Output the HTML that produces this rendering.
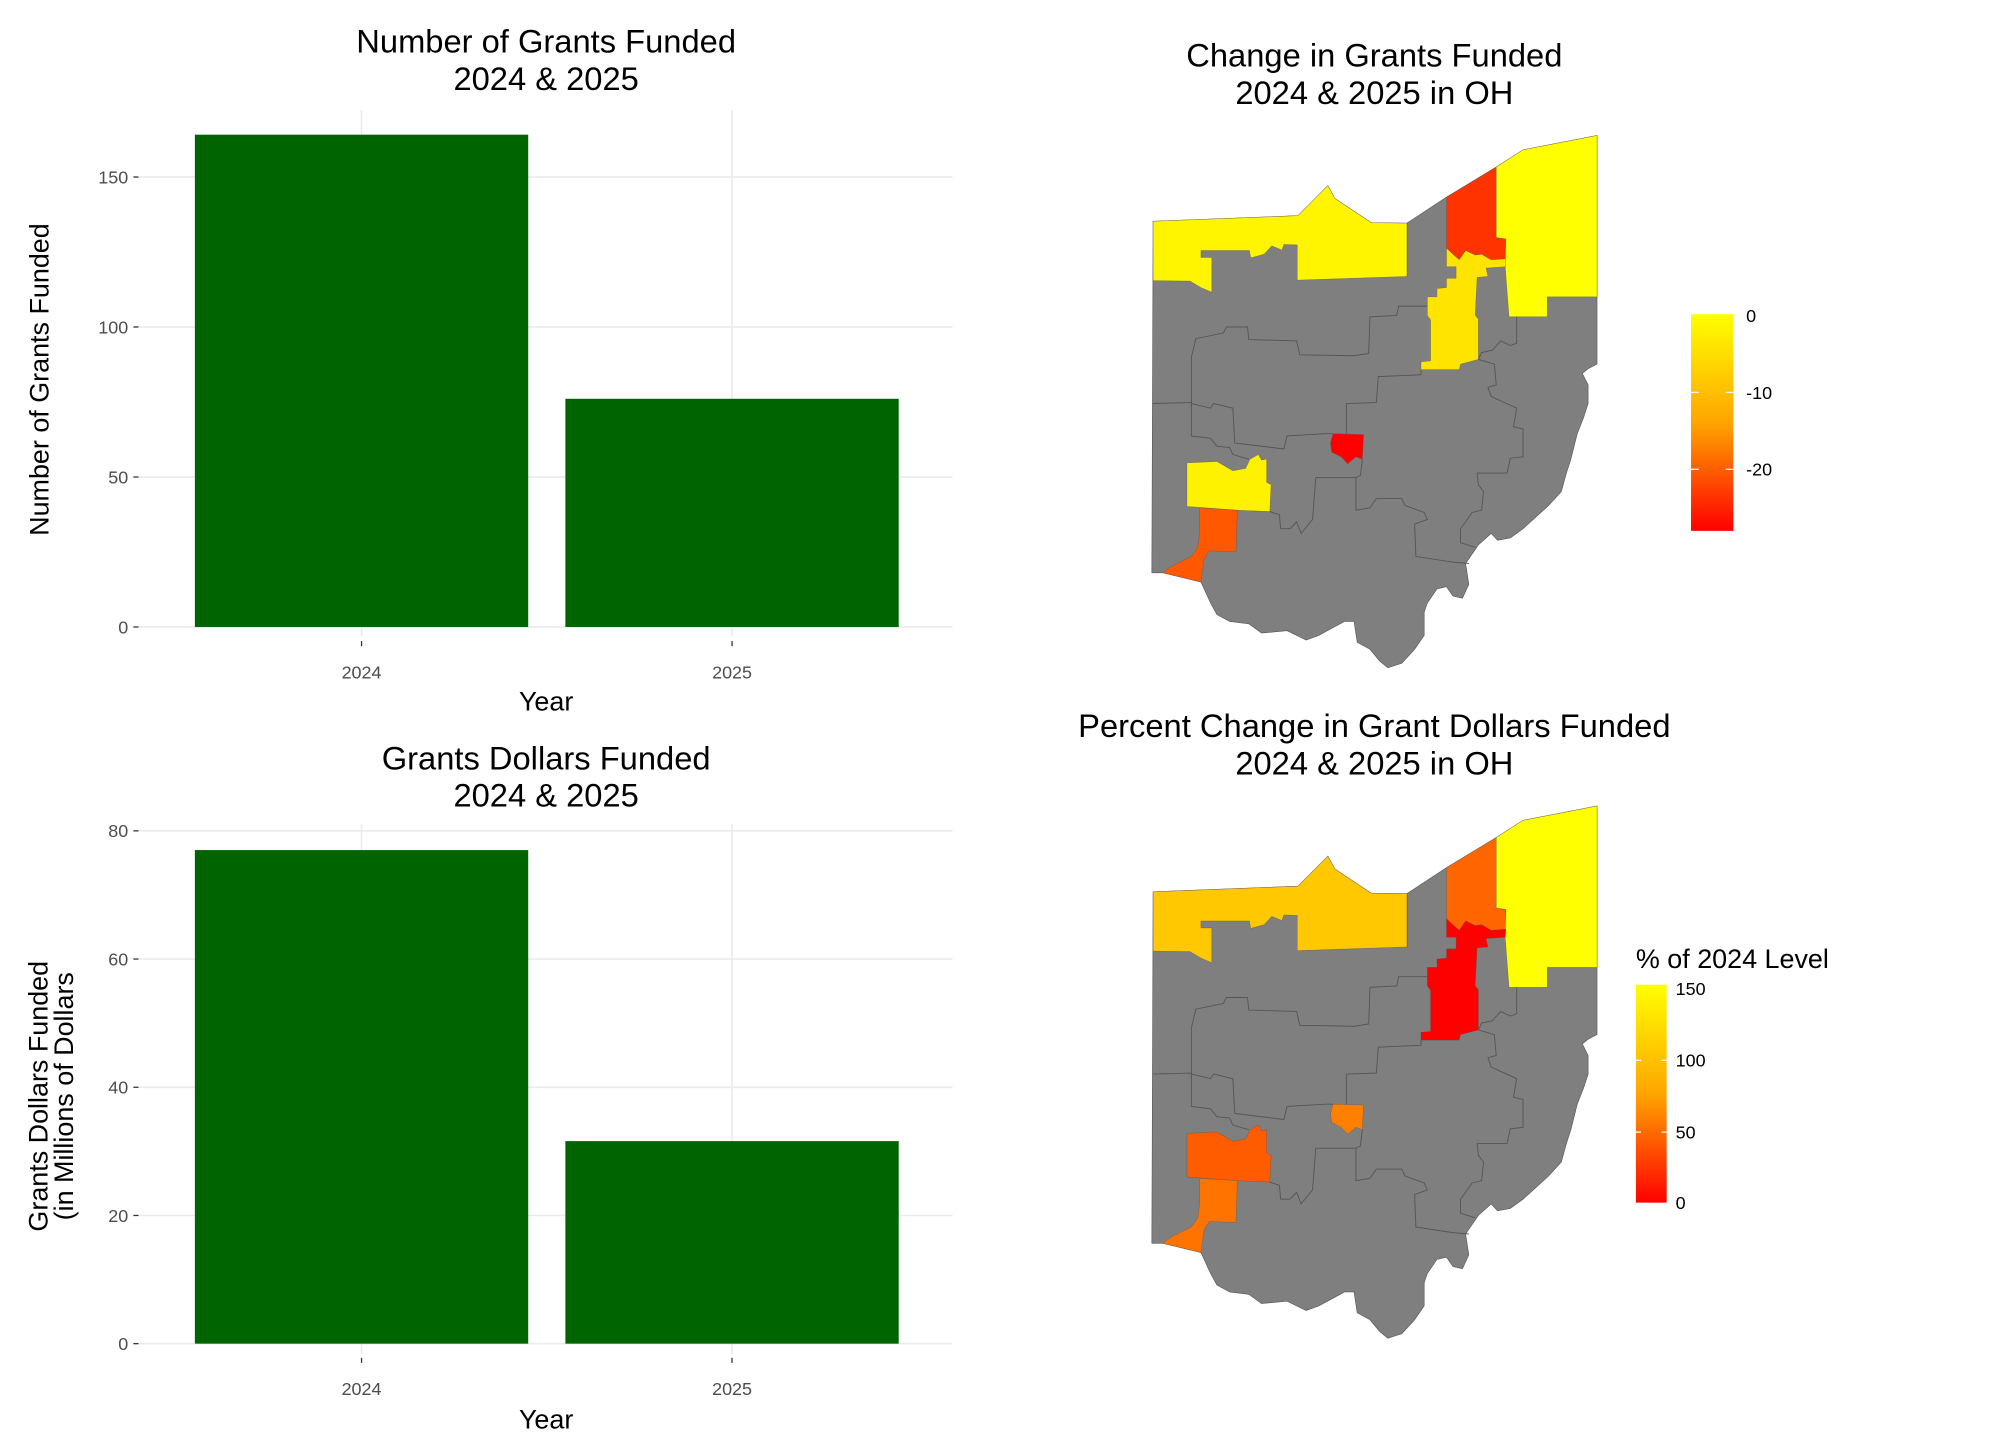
<!DOCTYPE html>
<html><head><meta charset="utf-8"><style>
html,body{margin:0;padding:0;background:#fff;}
svg{display:block;font-family:"Liberation Sans",Arial,sans-serif;}
.g{stroke:#ebebeb;stroke-width:1.3;}
.tk{stroke:#333;stroke-width:1;}
.tl{font-size:14px;fill:#4d4d4d;}
.at{font-size:21px;fill:#000;}
.tt{font-size:25.5px;fill:#000;}
.lt{font-size:14px;fill:#000;}
.b{stroke:#555;stroke-width:0.9;fill:none;vector-effect:non-scaling-stroke;}
.f{stroke:#555;stroke-width:0.6;vector-effect:non-scaling-stroke;}
</style></head><body>
<svg width="2000" height="1454" viewBox="0 0 1560 1134" xmlns="http://www.w3.org/2000/svg">
<defs>
<linearGradient id="lg1" x1="0" y1="0" x2="0" y2="1"><stop offset="0" stop-color="#ffff00"/><stop offset="0.5" stop-color="#ffa500"/><stop offset="1" stop-color="#ff0000"/></linearGradient>
<g id="base">
<path class="f" fill="#7f7f7f" d="M230,477 L457,465 L504,400 L515,428 L572,480 L628,481 L690,425 L768,360 L810,323 L926,292 L926,785 L912,795 L903,805 L912,830 L912,870 L905,900 L895,935 L885,990 L878,1020 L870,1060 L850,1090 L830,1115 L810,1140 L790,1160 L770,1165 L760,1150 L740,1175 L730,1195 L720,1215 L725,1260 L715,1290 L700,1285 L690,1265 L675,1270 L660,1300 L655,1320 L655,1370 L640,1400 L620,1430 L598,1440 L585,1425 L570,1400 L550,1385 L545,1340 L530,1340 L510,1355 L490,1370 L470,1380 L440,1360 L400,1365 L380,1345 L350,1340 L330,1325 L320,1300 L310,1270 L305,1255 L290,1250 L260,1240 L245,1235 L228,1235 Z"/>
<path class="b" d="M230,870 L290,868 L290,940 L320,945 L330,962 L350,965 L355,980 L380,990"/>
<path class="b" d="M290,868 L290,770 L297,730 L340,718 L345,705 L378,705 L380,732 L455,735 L460,765 L545,767 L568,762 L570,683 L612,680 L615,660 L660,660"/>
<path class="b" d="M290,870 L320,880 L325,870 L355,880 L358,955 L435,968 L440,940 L500,935 L512,935"/>
<path class="b" d="M533,935 L533,870 L580,868 L583,812 L650,808 L650,797"/>
<path class="b" d="M558,990 L555,1025 L548,1030 L548,1100 L570,1095 L580,1075 L620,1075 L625,1090 L655,1105 L660,1120 L640,1130 L642,1200 L700,1212 L725,1215"/>
<path class="b" d="M740,775 L765,785 L768,830 L755,835 L760,855 L800,880 L795,920 L810,925 L810,985 L790,988 L785,1020 L738,1020 L740,1045 L748,1060 L745,1100 L730,1105 L720,1125 L712,1140 L712,1170 L735,1180"/>
<path class="b" d="M413,1103 L428,1110 L430,1140 L445,1140 L455,1125 L462,1150 L480,1120 L485,1030 L548,1030"/>
<path class="b" d="M800,683 L800,740 L790,745 L775,735 L762,755 L745,760 L740,775"/>
<path class="b" d="M628,481 L628,596"/>
</g>
<path id="nw" d="M230,477 L457,465 L504,400 L515,428 L572,480 L628,481 L628,596 L456,604 L456,528 L435,527 L432,539 L416,530 L404,548 L383,556 L381,540 L305,540 L305,555 L322,555 L322,630 L305,620 L288,606 L230,605 Z"/>
<path id="cle" d="M690,425 L768,360 L768,512 L782,515 L783,558 L760,560 L745,548 L735,550 L720,540 L710,560 L700,548 L690,548 Z"/>
<path id="ne" d="M768,360 L810,323 L926,292 L926,640 L848,640 L848,683 L788,683 L782,575 L783,515 L768,512 Z"/>
<path id="mid" d="M690,535 L690,575 L705,575 L705,600 L690,600 L690,620 L675,622 L675,640 L660,640 L660,680 L665,690 L665,778 L650,780 L650,797 L710,797 L712,785 L740,775 L740,688 L735,680 L738,598 L755,596 L752,578 L782,575 L783,558 L760,560 L745,548 L735,550 L720,540 L710,560 L700,548 Z"/>
<path id="col" d="M512,935 L560,937 L558,990 L548,985 L535,1000 L525,985 L510,975 L508,955 Z"/>
<path id="day" d="M283,998 L330,995 L355,1015 L375,1010 L382,990 L395,980 L400,992 L408,990 L408,1040 L415,1045 L413,1103 L360,1100 L283,1092 Z"/>
<path id="cin" d="M303,1095 L362,1100 L360,1190 L318,1188 L310,1205 L305,1255 L290,1250 L260,1240 L245,1235 L260,1220 L290,1200 L300,1180 L303,1150 Z"/>
</defs>
<rect width="1560" height="1134" fill="#fff"/>

<!-- Top-left bar chart -->
<g>
<line class="g" x1="108" x2="743" y1="489" y2="489"/>
<line class="g" x1="108" x2="743" y1="372" y2="372"/>
<line class="g" x1="108" x2="743" y1="255" y2="255"/>
<line class="g" x1="108" x2="743" y1="138" y2="138"/>
<line class="g" x1="282" x2="282" y1="86" y2="496"/>
<line class="g" x1="571" x2="571" y1="86" y2="496"/>
<rect x="152" y="105" width="260" height="384" fill="#006400"/>
<rect x="441" y="311" width="260" height="178" fill="#006400"/>
<g class="tk"><line x1="104" x2="108" y1="489" y2="489"/><line x1="104" x2="108" y1="372" y2="372"/><line x1="104" x2="108" y1="255" y2="255"/><line x1="104" x2="108" y1="138" y2="138"/><line x1="282" x2="282" y1="500" y2="504"/><line x1="571" x2="571" y1="500" y2="504"/></g>
<g class="tl" text-anchor="end"><text x="100" y="494">0</text><text x="100" y="377">50</text><text x="100" y="260">100</text><text x="100" y="143">150</text></g>
<g class="tl" text-anchor="middle"><text x="282" y="529">2024</text><text x="571" y="529">2025</text></g>
<text class="at" x="426" y="554" text-anchor="middle">Year</text>
<text class="at" transform="translate(38,296) rotate(-90)" text-anchor="middle">Number of Grants Funded</text>
<text class="tt" x="426" y="41" text-anchor="middle">Number of Grants Funded</text>
<text class="tt" x="426" y="70" text-anchor="middle">2024 &amp; 2025</text>
</g>

<!-- Bottom-left bar chart -->
<g>
<line class="g" x1="108" x2="743" y1="1048" y2="1048"/>
<line class="g" x1="108" x2="743" y1="948" y2="948"/>
<line class="g" x1="108" x2="743" y1="848" y2="848"/>
<line class="g" x1="108" x2="743" y1="748" y2="748"/>
<line class="g" x1="108" x2="743" y1="648" y2="648"/>
<line class="g" x1="282" x2="282" y1="643" y2="1056"/>
<line class="g" x1="571" x2="571" y1="643" y2="1056"/>
<rect x="152" y="663" width="260" height="385" fill="#006400"/>
<rect x="441" y="890" width="260" height="158" fill="#006400"/>
<g class="tk"><line x1="104" x2="108" y1="1048" y2="1048"/><line x1="104" x2="108" y1="948" y2="948"/><line x1="104" x2="108" y1="848" y2="848"/><line x1="104" x2="108" y1="748" y2="748"/><line x1="104" x2="108" y1="648" y2="648"/><line x1="282" x2="282" y1="1059" y2="1063"/><line x1="571" x2="571" y1="1059" y2="1063"/></g>
<g class="tl" text-anchor="end"><text x="100" y="1053">0</text><text x="100" y="953">20</text><text x="100" y="853">40</text><text x="100" y="753">60</text><text x="100" y="653">80</text></g>
<g class="tl" text-anchor="middle"><text x="282" y="1088">2024</text><text x="571" y="1088">2025</text></g>
<text class="at" x="426" y="1114" text-anchor="middle">Year</text>
<text class="at" transform="translate(37,855) rotate(-90)" text-anchor="middle">Grants Dollars Funded</text>
<text class="at" transform="translate(57,855) rotate(-90)" text-anchor="middle">(in Millions of Dollars</text>
<text class="tt" x="426" y="600" text-anchor="middle">Grants Dollars Funded</text>
<text class="tt" x="426" y="629" text-anchor="middle">2024 &amp; 2025</text>
</g>

<!-- Top map -->
<text class="tt" x="1072" y="52" text-anchor="middle">Change in Grants Funded</text>
<text class="tt" x="1072" y="81" text-anchor="middle">2024 &amp; 2025 in OH</text>
<g transform="translate(785,0) scale(0.4975,0.3617)">
<use href="#base"/>
<use href="#nw" fill="#fff500" class="f"/>
<use href="#cle" fill="#ff3300" class="f"/>
<use href="#ne" fill="#ffff00" class="f"/>
<use href="#mid" fill="#ffe400" class="f"/>
<use href="#col" fill="#ff0000" class="f"/>
<use href="#day" fill="#fff200" class="f"/>
<use href="#cin" fill="#ff5800" class="f"/>
</g>
<rect x="1319" y="245" width="33" height="169" fill="url(#lg1)"/>
<g stroke="#fff" stroke-width="1"><line x1="1319" x2="1325" y1="306" y2="306"/><line x1="1346" x2="1352" y1="306" y2="306"/><line x1="1319" x2="1325" y1="366" y2="366"/><line x1="1346" x2="1352" y1="366" y2="366"/></g>
<g class="lt"><text x="1362" y="251">0</text><text x="1362" y="311">-10</text><text x="1362" y="371">-20</text></g>

<!-- Bottom map -->
<text class="tt" x="1072" y="575" text-anchor="middle">Percent Change in Grant Dollars Funded</text>
<text class="tt" x="1072" y="604" text-anchor="middle">2024 &amp; 2025 in OH</text>
<g transform="translate(785,523) scale(0.4975,0.3617)">
<use href="#base"/>
<use href="#nw" fill="#ffc800" class="f"/>
<use href="#cle" fill="#ff6600" class="f"/>
<use href="#ne" fill="#ffff00" class="f"/>
<use href="#mid" fill="#ff0000" class="f"/>
<use href="#col" fill="#ff8000" class="f"/>
<use href="#day" fill="#ff5c00" class="f"/>
<use href="#cin" fill="#ff7300" class="f"/>
</g>
<text x="1276" y="755" style="font-size:21px">% of 2024 Level</text>
<rect x="1276" y="768" width="24" height="170" fill="url(#lg1)"/>
<g stroke="#fff" stroke-width="1"><line x1="1276" x2="1280" y1="827" y2="827"/><line x1="1296" x2="1300" y1="827" y2="827"/><line x1="1276" x2="1280" y1="883" y2="883"/><line x1="1296" x2="1300" y1="883" y2="883"/></g>
<g class="lt"><text x="1307" y="776">150</text><text x="1307" y="832">100</text><text x="1307" y="888">50</text><text x="1307" y="943">0</text></g>
</svg>
</body></html>
